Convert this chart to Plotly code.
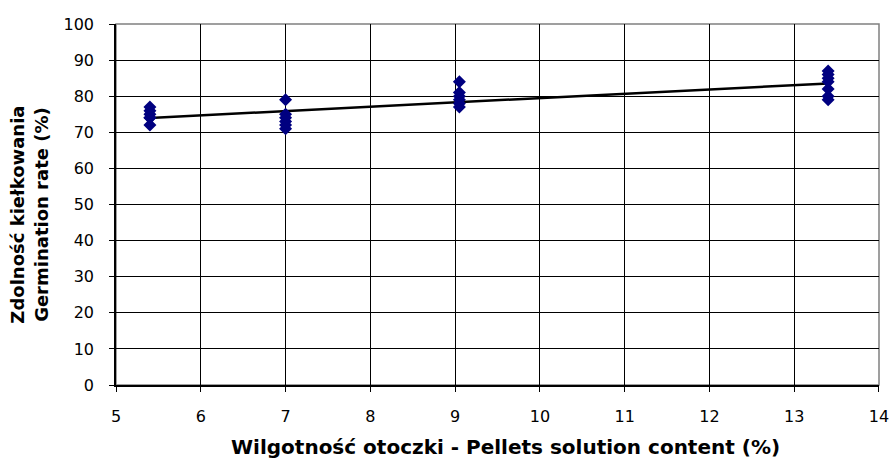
import numpy as np
import plotly.graph_objects as go

# Pellet solution content (%) and germination rate (%) per replicate
content_54 = [5.4] * 6
germ_54 = [77, 76, 75, 74, 74, 72]
content_70 = [7.0] * 6
germ_70 = [79, 75, 74, 73, 72, 71]
content_91 = [9.05] * 6
germ_91 = [84, 81, 80, 79, 78, 77]
content_134 = [13.4] * 7
germ_134 = [87, 86, 85, 84, 82, 80, 79]

x_ticks = list(range(5, 15))
y_ticks = list(range(0, 101, 10))

x_title = "<b>Wilgotność otoczki - Pellets solution content (%)</b>"
y_title = "<b>Zdolność kiełkowania<br>Germination rate (%)</b>"

x_all = np.array(content_54 + content_70 + content_91 + content_134)
y_all = np.array(germ_54 + germ_70 + germ_91 + germ_134)

# Linear trend over the measured range
slope, intercept = np.polyfit(x_all, y_all, 1)
x_trend = np.array([x_all.min(), x_all.max()])
y_trend = slope * x_trend + intercept

font_family = "DejaVu Sans, Verdana, sans-serif"

fig = go.Figure()
fig.add_trace(go.Scatter(
    x=x_trend, y=y_trend, mode="lines",
    line=dict(color="black", width=2.5),
    showlegend=False,
))
fig.add_trace(go.Scatter(
    x=x_all, y=y_all, mode="markers",
    marker=dict(symbol="diamond", size=10, color="#000080"),
    showlegend=False,
))

fig.update_layout(
    width=891, height=459,
    margin=dict(l=116, r=12, t=24, b=74, autoexpand=False),
    paper_bgcolor="white", plot_bgcolor="white",
    font=dict(family=font_family, size=16, color="black"),
    shapes=[dict(type="rect", xref="paper", yref="paper", x0=0, y0=0, x1=1, y1=1,
                 line=dict(color="#808080", width=1.5), layer="below")],
    annotations=[
        dict(text=x_title, xref="paper", yref="paper", x=0.51, y=-0.173,
             xanchor="center", yanchor="middle", showarrow=False,
             font=dict(size=20)),
        dict(text=y_title, xref="paper", yref="paper", x=-0.114, y=0.472,
             xanchor="center", yanchor="middle", showarrow=False,
             textangle=-90, font=dict(size=18)),
    ],
)
fig.update_xaxes(
    range=[5, 14.0001], tickmode="array", tickvals=x_ticks,
    ticktext=[str(v) for v in x_ticks],
    showgrid=True, gridcolor="black", gridwidth=1,
    showline=True, linecolor="black", linewidth=1.5,
    ticks="outside", ticklen=5, tickcolor="black",
    ticklabelstandoff=11, zeroline=False, automargin=False,
    tickfont=dict(size=16),
)
fig.update_yaxes(
    range=[0, 100], tickmode="array", tickvals=y_ticks,
    ticktext=[str(v) for v in y_ticks],
    showgrid=True, gridcolor="black", gridwidth=1,
    showline=True, linecolor="black", linewidth=1.5,
    ticks="outside", ticklen=5, tickcolor="black",
    ticklabelstandoff=12, zeroline=False, automargin=False,
    tickfont=dict(size=16),
)

fig.write_html("out.html")
